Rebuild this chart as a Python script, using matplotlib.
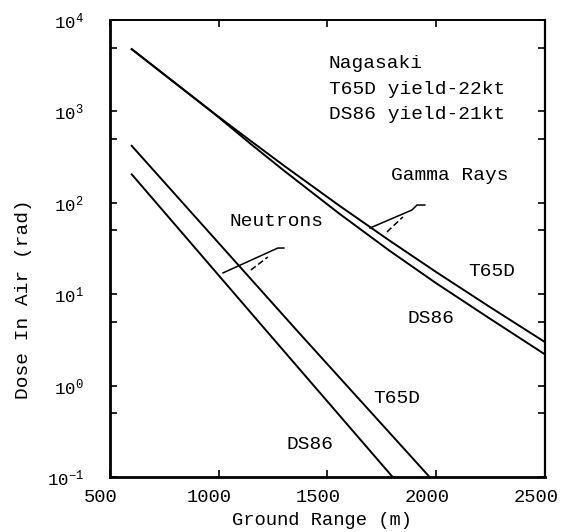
import matplotlib
matplotlib.use("Agg")
import matplotlib.pyplot as plt
import matplotlib.transforms as mtransforms
from matplotlib.ticker import FixedLocator, NullFormatter

plt.rcParams['font.family'] = ['Liberation Mono', 'DejaVu Sans Mono']

# Gamma rays (Nagasaki)
gamma_range = [600, 975, 1145, 1300, 1555, 1785, 2000, 2245, 2500]
gamma_t65d = [4800, 965, 480, 255, 93, 38.7, 17.5, 7.3, 3.0]
gamma_ds86 = [4800, 965, 445, 225, 76, 30, 13.2, 5.45, 2.2]

# Neutrons
neut_t65d_range = [600, 1360, 1970]
neut_t65d = [420, 4.0, 0.1]
neut_ds86_range = [600, 1200, 1800]
neut_ds86 = [205, 4.5, 0.1]

x_ticks = [500, 1000, 1500, 2000, 2500]
y_ticks = [1e-1, 1e0, 1e1, 1e2, 1e3, 1e4]
y_tick_labels = [r'$\mathregular{10^{-1}}$', r'$\mathregular{10^{0}}$',
                 r'$\mathregular{10^{1}}$', r'$\mathregular{10^{2}}$',
                 r'$\mathregular{10^{3}}$', r'$\mathregular{10^{4}}$']
y_minor = [0.5, 5, 50, 500, 5000]

fig = plt.figure(figsize=(5.64, 5.32), dpi=100)
ax = fig.add_axes([0.195, 0.1034, 0.771, 0.859])
ax.set_yscale('log')
ax.set_xlim(500, 2500)
ax.set_ylim(0.1, 1e4)

ax.plot(gamma_range, gamma_t65d, color='black', lw=1.4)
ax.plot(gamma_range, gamma_ds86, color='black', lw=1.4)
ax.plot(neut_t65d_range, neut_t65d, color='black', lw=1.4)
ax.plot(neut_ds86_range, neut_ds86, color='black', lw=1.4)

# leader lines from the labels to the curves
ax.plot([1020, 1272, 1300], [17.1, 32.0, 32.0], color='black', lw=1.1)
ax.plot([1148, 1226], [18.4, 25.5], color='black', lw=1.1, ls=(0, (4, 2)))
ax.plot([1696, 1889, 1912, 1948], [53, 83.4, 94.6, 94.6], color='black', lw=1.1)
ax.plot([1774, 1847], [48, 70], color='black', lw=1.1, ls=(0, (4, 2)))

txt = dict(color='black', fontsize=14, va='center', ha='left')
ax.text(1507, 10 ** 3.52, 'Nagasaki', **txt)
ax.text(1507, 10 ** 3.245, 'T65D yield-22kt', **txt)
ax.text(1507, 10 ** 2.97, 'DS86 yield-21kt', **txt)
ax.text(1792, 201, 'Gamma Rays', **txt)
ax.text(1052, 63, 'Neutrons', **txt)
ax.text(2146, 17.9, 'T65D', **txt)
ax.text(1870, 5.36, 'DS86', **txt)
ax.text(1709, 0.73, 'T65D', **txt)
ax.text(1314, 0.224, 'DS86', **txt)

ax.set_xticks(x_ticks)
ax.set_xticklabels([str(v) for v in x_ticks], fontsize=13.5)
ax.set_yticks(y_ticks)
ax.set_yticklabels(y_tick_labels, fontsize=12.5)
ax.yaxis.set_minor_locator(FixedLocator(y_minor))
ax.yaxis.set_minor_formatter(NullFormatter())
ax.tick_params(which='both', direction='in', length=5, width=1.2,
               top=True, right=True, color='black')
ax.tick_params(axis='y', which='major', pad=19)
ax.tick_params(axis='x', which='major', pad=9)

# the typed x labels sit a little left of their ticks
shift = mtransforms.ScaledTranslation(-0.09, 0, fig.dpi_scale_trans)
for lab in ax.get_xticklabels():
    lab.set_transform(lab.get_transform() + shift)

ax.set_xlabel('Ground Range (m)', fontsize=13.5, va='center')
ax.set_ylabel('Dose In Air (rad)', fontsize=14)
ax.xaxis.set_label_coords(0.487, -0.096)
ax.yaxis.set_label_coords(-0.179, 0.39)

for side, w in [('left', 2.0), ('bottom', 2.0), ('right', 1.6), ('top', 1.4)]:
    ax.spines[side].set_linewidth(w)
    ax.spines[side].set_color('black')

fig.savefig('out.png', dpi=100, facecolor='white')
